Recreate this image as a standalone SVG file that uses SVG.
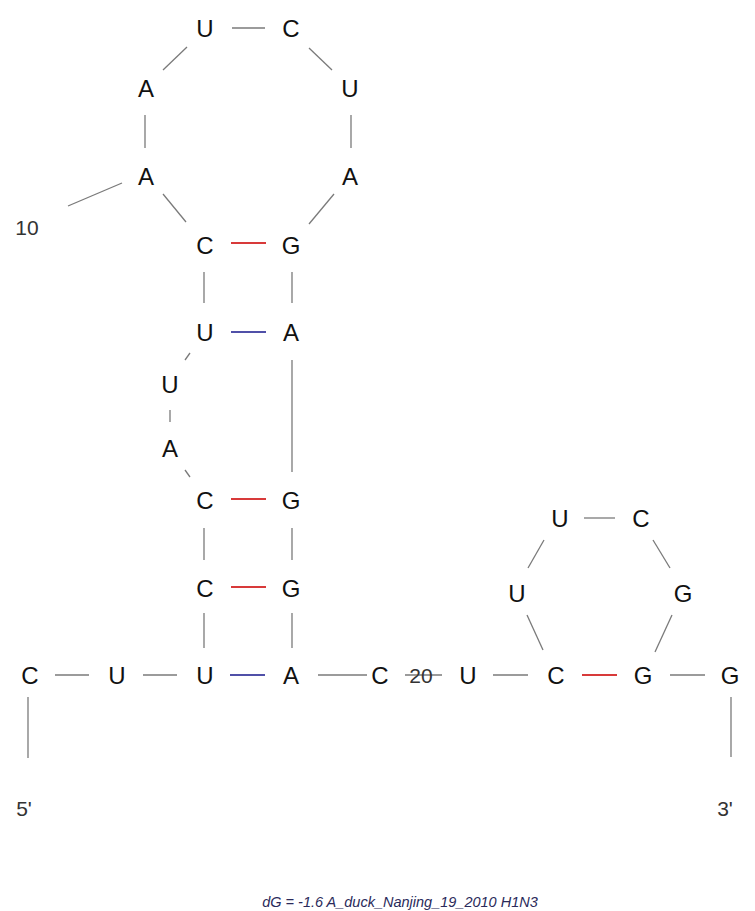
<svg xmlns="http://www.w3.org/2000/svg" width="755" height="911" viewBox="0 0 755 911">
<style>
.b{font-family:"Liberation Sans",Arial,sans-serif;font-size:24px;fill:#111;text-anchor:middle}
.n{font-family:"Liberation Sans",Arial,sans-serif;font-size:21px;fill:#333;text-anchor:middle}
.cap{font-family:"Liberation Sans",Arial,sans-serif;font-size:14.5px;font-style:italic;fill:#2a2a5a;text-anchor:middle}
.l{stroke:#7a7a7a;stroke-width:1.3;fill:none}
.gc{stroke:#d83a3a;stroke-width:2;fill:none}
.au{stroke:#5050a8;stroke-width:2;fill:none}
</style>
<rect width="755" height="911" fill="#fff"/>
<g id="connectors">
<line class="l" x1="232" y1="28" x2="265" y2="28"/>
<line class="l" x1="187" y1="47" x2="163" y2="70"/>
<line class="l" x1="309" y1="48" x2="332" y2="70"/>
<line class="l" x1="145" y1="115" x2="145" y2="148"/>
<line class="l" x1="351" y1="115" x2="351" y2="148"/>
<line class="l" x1="163" y1="194" x2="186" y2="222"/>
<line class="l" x1="334" y1="194" x2="309" y2="224"/>
<line class="l" x1="68" y1="206" x2="122" y2="183"/>
<line class="gc" x1="231" y1="243" x2="266" y2="243"/>
<line class="l" x1="204" y1="272" x2="204" y2="303"/>
<line class="l" x1="292" y1="272" x2="292" y2="303"/>
<line class="au" x1="231" y1="332" x2="266" y2="332"/>
<line class="l" x1="190" y1="353" x2="185" y2="360"/>
<line class="l" x1="292" y1="360" x2="292" y2="472"/>
<line class="l" x1="170" y1="410" x2="170" y2="422"/>
<line class="l" x1="185" y1="470" x2="190" y2="477"/>
<line class="gc" x1="231" y1="499" x2="266" y2="499"/>
<line class="l" x1="204" y1="528" x2="204" y2="560"/>
<line class="l" x1="292" y1="528" x2="292" y2="560"/>
<line class="gc" x1="231" y1="587" x2="266" y2="587"/>
<line class="l" x1="204" y1="613" x2="204" y2="648"/>
<line class="l" x1="292" y1="613" x2="292" y2="648"/>
<line class="l" x1="55" y1="675" x2="89" y2="675"/>
<line class="l" x1="143" y1="675" x2="177" y2="675"/>
<line class="au" x1="230" y1="675" x2="265" y2="675"/>
<line class="l" x1="318" y1="675" x2="367" y2="675"/>
<line class="l" x1="405" y1="675" x2="442" y2="675"/>
<line class="l" x1="493" y1="675" x2="528" y2="675"/>
<line class="gc" x1="582" y1="675" x2="617" y2="675"/>
<line class="l" x1="670" y1="675" x2="705" y2="675"/>
<line class="l" x1="28" y1="697" x2="28" y2="758"/>
<line class="l" x1="731" y1="697" x2="731" y2="757"/>
<line class="l" x1="584" y1="518" x2="615" y2="518"/>
<line class="l" x1="544" y1="540" x2="528" y2="568"/>
<line class="l" x1="653" y1="540" x2="670" y2="568"/>
<line class="l" x1="527" y1="615" x2="543" y2="650"/>
<line class="l" x1="672" y1="615" x2="655" y2="652"/>
</g>
<g id="n1"><text class="b" x="30" y="684">C</text></g>
<g id="n2"><text class="b" x="117" y="684">U</text></g>
<g id="n3"><text class="b" x="205" y="684">U</text></g>
<g id="n4"><text class="b" x="205" y="597">C</text></g>
<g id="n5"><text class="b" x="205" y="509">C</text></g>
<g id="n6"><text class="b" x="170" y="457">A</text></g>
<g id="n7"><text class="b" x="170" y="393">U</text></g>
<g id="n8"><text class="b" x="205" y="341">U</text></g>
<g id="n9"><text class="b" x="205" y="254">C</text></g>
<g id="n10"><text class="b" x="146" y="185">A</text></g>
<g id="n11"><text class="b" x="146" y="97">A</text></g>
<g id="n12"><text class="b" x="205" y="37">U</text></g>
<g id="n13"><text class="b" x="291" y="37">C</text></g>
<g id="n14"><text class="b" x="350" y="97">U</text></g>
<g id="n15"><text class="b" x="350" y="185">A</text></g>
<g id="n16"><text class="b" x="291" y="254">G</text></g>
<g id="n17"><text class="b" x="291" y="341">A</text></g>
<g id="n18"><text class="b" x="291" y="509">G</text></g>
<g id="n19"><text class="b" x="291" y="597">G</text></g>
<g id="n20"><text class="b" x="291" y="684">A</text></g>
<g id="n21"><text class="b" x="380" y="684">C</text></g>
<g id="n22"><text class="b" x="468" y="684">U</text></g>
<g id="n23"><text class="b" x="556" y="684">C</text></g>
<g id="n24"><text class="b" x="517" y="602">U</text></g>
<g id="n25"><text class="b" x="560" y="527">U</text></g>
<g id="n26"><text class="b" x="641" y="527">C</text></g>
<g id="n27"><text class="b" x="683" y="602">G</text></g>
<g id="n28"><text class="b" x="643" y="684">G</text></g>
<g id="n29"><text class="b" x="730" y="684">G</text></g>
<g id="labels">
<text class="n" x="27" y="235">10</text>
<text class="n" x="421" y="683">20</text>
<text class="n" x="24" y="816">5'</text>
<text class="n" x="725" y="816">3'</text>
<text class="cap" x="400" y="907">dG = -1.6 A_duck_Nanjing_19_2010 H1N3</text>
</g>
</svg>
